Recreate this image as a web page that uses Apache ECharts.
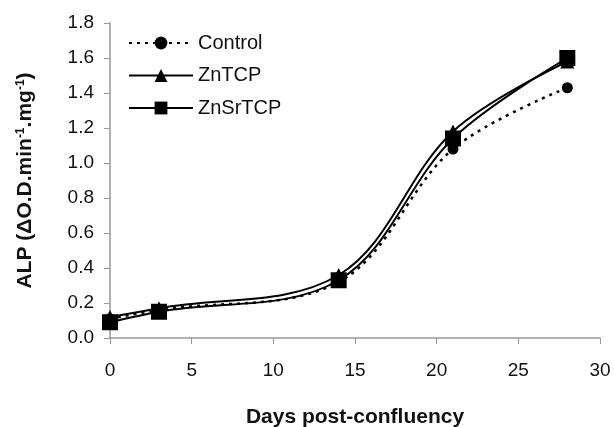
<!DOCTYPE html>
<html>
<head>
<meta charset="utf-8">
<script src="https://cdn.jsdelivr.net/npm/echarts@6/dist/echarts.min.js"></script>
<style>html,body{margin:0;padding:0;background:#fff}#c{width:614px;height:427px}</style>
</head>
<body>
<div id="c"></div>
<script>
var days = [0, 3, 14, 21, 28];
var control = [0.11, 0.16, 0.32, 1.08, 1.43];
var znTCP = [0.12, 0.17, 0.36, 1.18, 1.58];
var znSrTCP = [0.09, 0.15, 0.33, 1.14, 1.60];
var yTicks = [0, 0.2, 0.4, 0.6, 0.8, 1.0, 1.2, 1.4, 1.6, 1.8];
var xTicks = [0, 5, 10, 15, 20, 25, 30];

function pairs(xs, ys) { return xs.map(function (x, i) { return [x, ys[i]]; }); }

var chart = echarts.init(document.getElementById('c'), null, {renderer: 'canvas'});
var font = 'Liberation Sans, Arial, sans-serif';
chart.setOption({
  animation: false,
  backgroundColor: '#fff',
  grid: {left: 110, right: 14, top: 23, bottom: 89, containLabel: false, outerBoundsMode: 'none'},
  legend: {
    left: 123, top: 28, orient: 'vertical', itemWidth: 64, itemHeight: 16, itemGap: 12.5,
    textStyle: {fontFamily: font, fontSize: 20, color: '#111'},
    data: ['Control', 'ZnTCP', 'ZnSrTCP']
  },
  xAxis: {
    type: 'value', min: 0, max: 30, interval: 5,
    name: 'Days post-confluency', nameLocation: 'middle', nameGap: 69,
    nameTextStyle: {fontFamily: font, fontSize: 21, fontWeight: 'bold', color: '#111'},
    axisLine: {lineStyle: {color: '#999', width: 1.5}},
    axisTick: {show: true, length: 6, lineStyle: {color: '#999'}},
    axisLabel: {fontFamily: font, fontSize: 19, color: '#111', margin: 23,
      formatter: function (v) { return xTicks.indexOf(v) >= 0 ? String(v) : ''; }},
    splitLine: {show: false}
  },
  yAxis: {
    type: 'value', min: 0, max: 1.8, interval: 0.2,
    name: '{b|ALP (ΔO.D.min}{s|-1}{b|.mg}{s|-1}{b|)}', nameLocation: 'middle', nameGap: 74,
    nameRotate: 90,
    nameTextStyle: {
      rich: {
        b: {fontFamily: font, fontSize: 21, fontWeight: 'bold', color: '#111'},
        s: {fontFamily: font, fontSize: 12, fontWeight: 'bold', color: '#111', verticalAlign: 'top', padding: [0, 0, 9, 0]}
      }
    },
    axisLine: {show: true, lineStyle: {color: '#999', width: 1.5}},
    axisTick: {show: true, length: 6, lineStyle: {color: '#999'}},
    axisLabel: {fontFamily: font, fontSize: 19, color: '#111', margin: 16,
      formatter: function (v) { return v.toFixed(1); }},
    splitLine: {show: false}
  },
  series: [
    {name: 'Control', type: 'line', data: pairs(days, control), smooth: 0.35,
      symbol: 'circle', symbolSize: 11, itemStyle: {color: '#000'},
      lineStyle: {color: '#000', width: 2.5, type: [3, 5]}},
    {name: 'ZnTCP', type: 'line', data: pairs(days, znTCP), smooth: 0.35,
      symbol: 'triangle', symbolSize: 14, itemStyle: {color: '#000'},
      lineStyle: {color: '#000', width: 2}},
    {name: 'ZnSrTCP', type: 'line', data: pairs(days, znSrTCP), smooth: 0.35,
      symbol: 'rect', symbolSize: 16, itemStyle: {color: '#000'},
      lineStyle: {color: '#000', width: 2}}
  ]
});
</script>
</body>
</html>
